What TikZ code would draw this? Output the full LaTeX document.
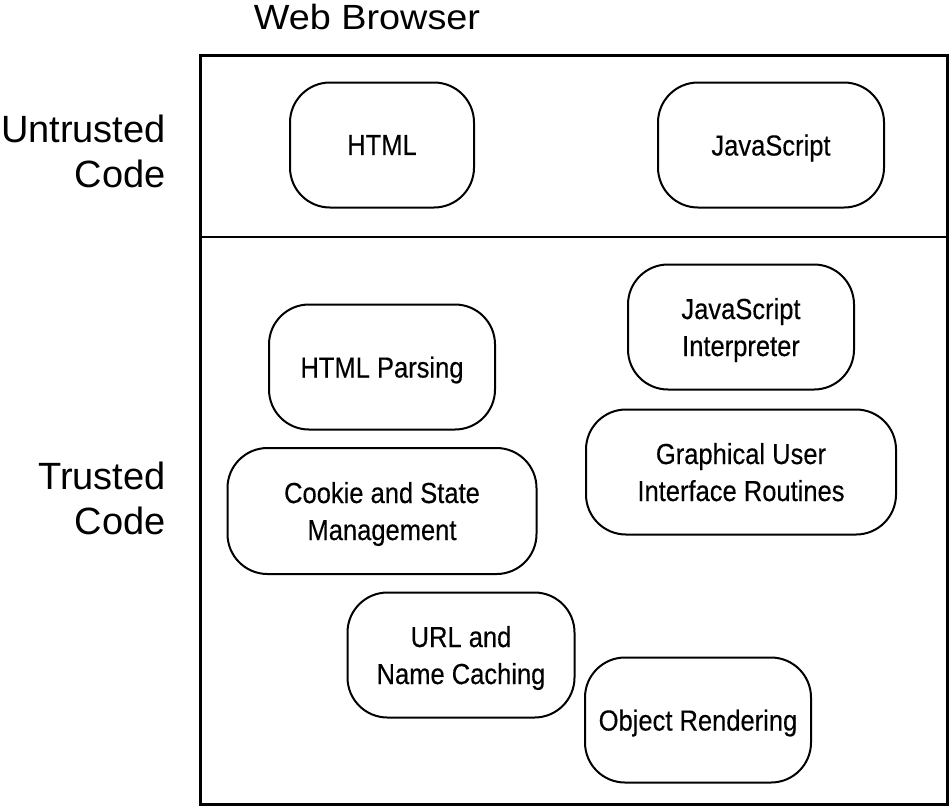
\documentclass[tikz,border=0pt]{standalone}
\usepackage{fontspec}
\setmainfont{Liberation Sans}
\newfontfamily\condfont[FakeStretch=0.88,FakeBold=0.3]{Liberation Sans}
\newfontfamily\titlefont[FakeStretch=1.08]{Liberation Sans}
\begin{document}
\begin{tikzpicture}[x=1pt,y=-1pt,
  comp/.style={draw,line width=2pt,rounded corners=40pt,align=center,
    font=\condfont\fontsize{29}{37}\selectfont,inner sep=0pt,text depth=0pt},
  bigtext/.style={font=\fontsize{38}{45}\selectfont,inner sep=0pt}]
\useasboundingbox (0,0) rectangle (952,807);
\node[font=\titlefont\fontsize{35}{40}\selectfont,inner sep=0pt,anchor=base] (title) at (367,29) {Web Browser};
\draw[line width=3pt] (200,55) rectangle (947,804);
\draw[line width=2pt] (200,237) -- (947,237);
\node[bigtext,anchor=base east] (ut1) at (166,142) {Untrusted};
\node[bigtext,anchor=base east] (ut2) at (166,187) {Code};
\node[bigtext,anchor=base east] (tr1) at (166,489) {Trusted};
\node[bigtext,anchor=base east] (tr2) at (166,534) {Code};
\node[comp,minimum width=184pt,minimum height=125pt] (html) at (382,145) {HTML};
\node[comp,minimum width=226pt,minimum height=125pt] (js) at (771,145) {JavaScript};
\node[comp,minimum width=226pt,minimum height=125pt] (parse) at (382,367) {HTML Parsing};
\node[comp,minimum width=226pt,minimum height=125pt] (interp) at (741,327) {JavaScript\\Interpreter};
\node[comp,minimum width=310pt,minimum height=125pt] (gui) at (741,472) {Graphical User\\Interface Routines};
\node[comp,minimum width=309pt,minimum height=126pt] (cookie) at (382,511) {Cookie and State\\Management};
\node[comp,minimum width=227pt,minimum height=125pt] (url) at (461,655) {URL and\\Name Caching};
\node[comp,minimum width=226pt,minimum height=125pt] (obj) at (698,720) {Object Rendering};
\end{tikzpicture}
\end{document}
